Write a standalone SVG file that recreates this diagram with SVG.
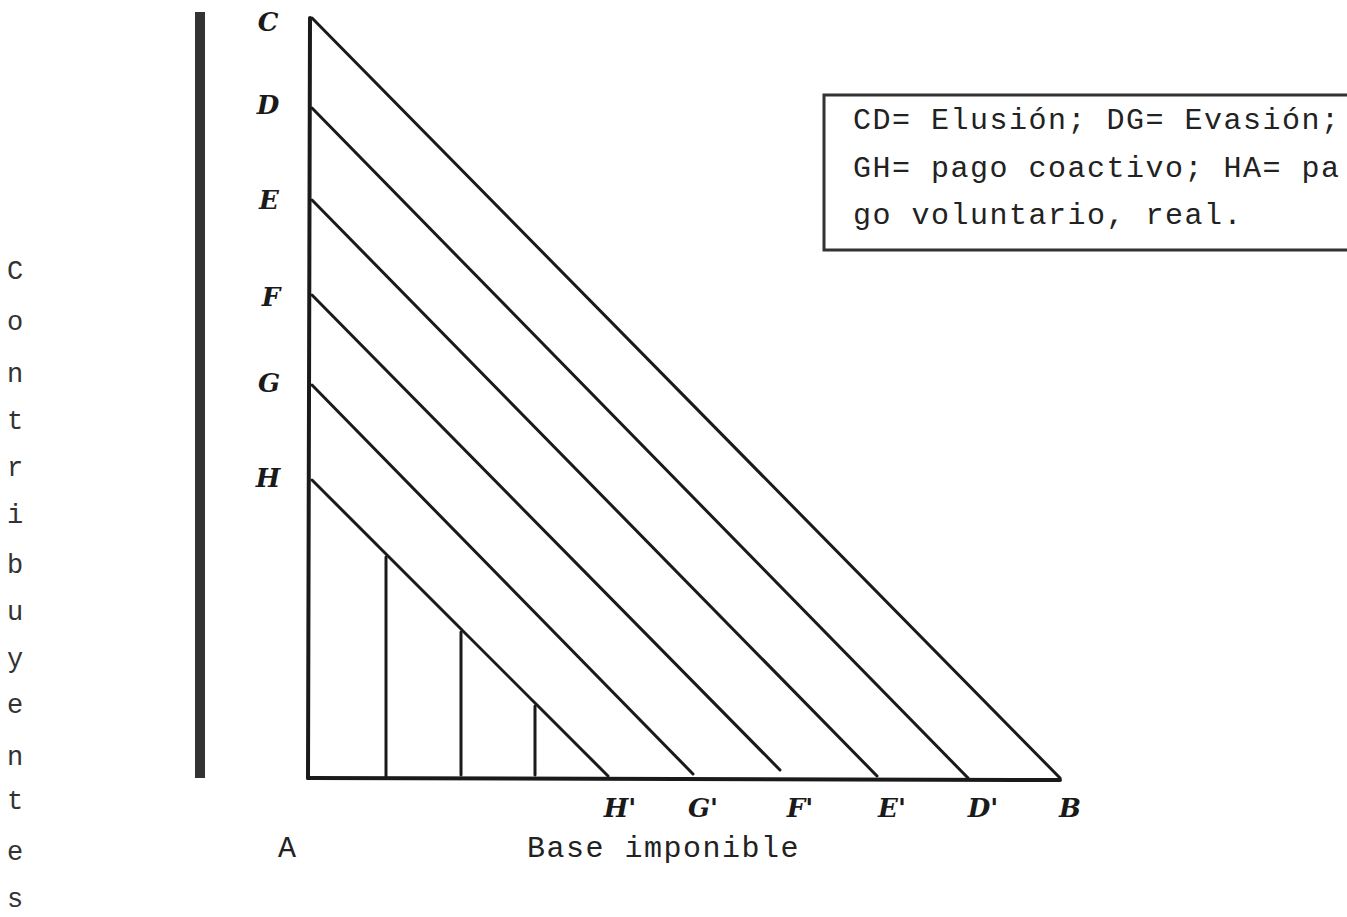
<svg xmlns="http://www.w3.org/2000/svg" width="1347" height="917" viewBox="0 0 1347 917">
<style>
.ln{stroke:#1a1a1a;stroke-width:3;fill:none;stroke-linecap:round}
.ax{stroke:#1a1a1a;stroke-width:4;fill:none;stroke-linecap:round}
.pt{font-family:"DejaVu Serif","Liberation Serif",serif;font-weight:bold;font-style:italic;font-size:26px;fill:#1a1a1a;text-anchor:middle}
.tw{font-family:"Liberation Mono","DejaVu Sans Mono",monospace;font-size:30px;fill:#222;letter-spacing:1.5px}
.vt{font-family:"Liberation Mono","DejaVu Sans Mono",monospace;font-size:27px;fill:#333;text-anchor:middle}
</style>
<rect width="1347" height="917" fill="#fff"/>
<g id="bar"><line x1="200" y1="12" x2="200" y2="778" stroke="#333" stroke-width="10"/></g>
<g id="connectors">
<line class="ax" x1="310" y1="18" x2="308" y2="778"/>
<line class="ax" x1="308" y1="778" x2="1060" y2="780"/>
<line class="ln" x1="312" y1="18" x2="1060" y2="778"/>
<line class="ln" x1="312" y1="108" x2="968" y2="778"/>
<line class="ln" x1="312" y1="200" x2="877" y2="776"/>
<line class="ln" x1="312" y1="295" x2="780" y2="770"/>
<line class="ln" x1="312" y1="385" x2="693" y2="774"/>
<line class="ln" x1="312" y1="480" x2="608" y2="776"/>
<line class="ln" x1="386" y1="557" x2="386" y2="778"/>
<line class="ln" x1="461" y1="632" x2="461" y2="775"/>
<line class="ln" x1="535" y1="706" x2="535" y2="775"/>
</g>
<g id="C"><text class="pt" x="268" y="31">C</text></g>
<g id="D"><text class="pt" x="268" y="114">D</text></g>
<g id="E"><text class="pt" x="269" y="209">E</text></g>
<g id="F"><text class="pt" x="271" y="306">F</text></g>
<g id="G"><text class="pt" x="269" y="392">G</text></g>
<g id="H"><text class="pt" x="268" y="487">H</text></g>
<g id="Hp"><text class="pt" x="620" y="817">H'</text></g>
<g id="Gp"><text class="pt" x="703" y="817">G'</text></g>
<g id="Fp"><text class="pt" x="800" y="817">F'</text></g>
<g id="Ep"><text class="pt" x="892" y="817">E'</text></g>
<g id="Dp"><text class="pt" x="983" y="817">D'</text></g>
<g id="B"><text class="pt" x="1070" y="817">B</text></g>
<g id="A"><text class="tw" x="278" y="857">A</text></g>
<g id="xlabel"><text class="tw" x="527" y="857">Base imponible</text></g>
<g id="legend">
<path d="M1347 95 H824 V250 H1347" stroke="#333" stroke-width="3" fill="none"/>
<text class="tw" x="853" y="129">CD= Elusión; DG= Evasión;</text>
<text class="tw" x="853" y="177">GH= pago coactivo; HA= pa</text>
<text class="tw" x="853" y="224">go voluntario, real.</text>
</g>
<g id="ylabel">
<text class="vt" x="15" y="279">C</text>
<text class="vt" x="15" y="330">o</text>
<text class="vt" x="15" y="382">n</text>
<text class="vt" x="15" y="429">t</text>
<text class="vt" x="15" y="476">r</text>
<text class="vt" x="15" y="523">i</text>
<text class="vt" x="15" y="573">b</text>
<text class="vt" x="15" y="620">u</text>
<text class="vt" x="15" y="667">y</text>
<text class="vt" x="15" y="713">e</text>
<text class="vt" x="15" y="765">n</text>
<text class="vt" x="15" y="809">t</text>
<text class="vt" x="15" y="860">e</text>
<text class="vt" x="15" y="907">s</text>
</g>
</svg>
